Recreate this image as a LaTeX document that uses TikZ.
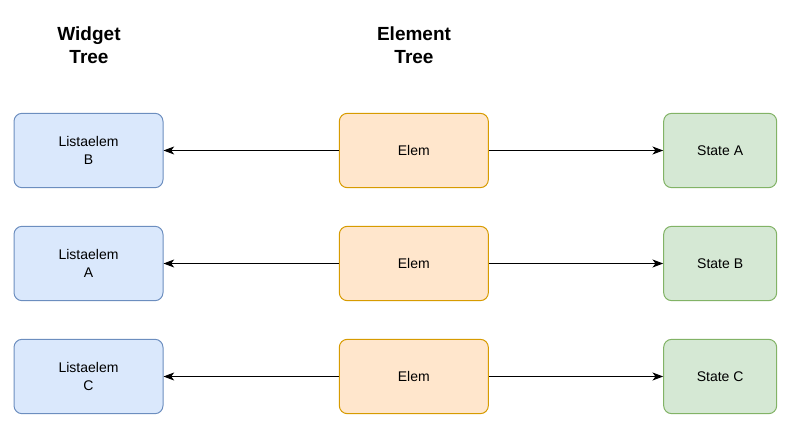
\documentclass[tikz,border=0pt]{standalone}
\usepackage{fontspec}
\setmainfont{Liberation Sans}
\usetikzlibrary{arrows.meta,positioning}
\definecolor{widgetfill}{HTML}{DAE8FC}
\definecolor{widgetline}{HTML}{6C8EBF}
\definecolor{elemfill}{HTML}{FFE6CC}
\definecolor{elemline}{HTML}{D79B00}
\definecolor{statefill}{HTML}{D5E8D4}
\definecolor{stateline}{HTML}{82B366}

\begin{document}
\begin{tikzpicture}[x=0.75pt,y=-0.75pt,font=\fontsize{10.5}{13.5}\selectfont,
   node distance=28.25pt and 131.5pt,
   box/.style={draw,line width=0.75pt,rounded corners=6pt,minimum width=111.75pt,
               minimum height=55.75pt,align=center},
   widget/.style={box,fill=widgetfill,draw=widgetline},
   elem/.style={box,fill=elemfill,draw=elemline},
   state/.style={box,fill=statefill,draw=stateline,minimum width=84.75pt},
   title/.style={font=\fontsize{14.25}{17.25}\selectfont\bfseries,align=center},
   link/.style={-{Stealth[length=8pt,width=6pt,inset=2.2pt]},line width=0.75pt}]
  \useasboundingbox (0,0) rectangle (796,435);
  \node[widget] (wb) at (88.5,150.5) {Listaelem\\B};
  \node[elem,right=131.5pt of wb]      (eb) {Elem};
  \node[state,right=130.75pt of eb]    (sa) {State A};
  \node[widget,below=of wb]            (wa) {Listaelem\\A};
  \node[elem,below=of eb]              (ea) {Elem};
  \node[state,below=of sa]             (sb) {State B};
  \node[widget,below=of wa]            (wc) {Listaelem\\C};
  \node[elem,below=of ea]              (ec) {Elem};
  \node[state,below=of sb]             (sc) {State C};
  \node[title] (wtitle) at (89,45)  {Widget\\Tree};
  \node[title] (etitle) at (414,45) {Element\\Tree};
  \draw[link] (eb) -- (wb);
  \draw[link] (eb) -- (sa);
  \draw[link] (ea) -- (wa);
  \draw[link] (ea) -- (sb);
  \draw[link] (ec) -- (wc);
  \draw[link] (ec) -- (sc);
\end{tikzpicture}
\end{document}
